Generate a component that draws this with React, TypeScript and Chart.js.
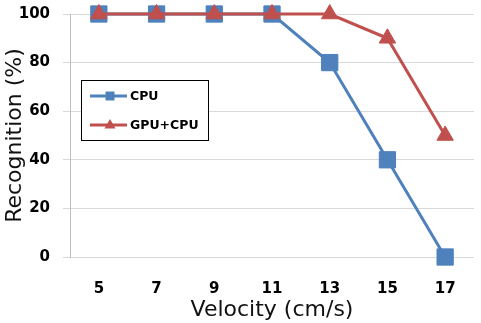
import React, { useEffect, useRef } from "react";
import { Chart, registerables } from "chart.js";

Chart.register(...registerables);

const categories = ["5", "7", "9", "11", "13", "15", "17"];
const cpuValues = [100, 100, 100, 100, 80, 40, 0];
const gpuCpuValues = [100, 100, 100, 100, 100, 90, 50];
const seriesNames = ["CPU", "GPU+CPU"];
const xTitle = "Velocity (cm/s)";
const yTitle = "Recognition (%)";

const BLUE = "#4F81BD";
const RED = "#C0504D";

const legendPlugin = {
  id: "insideLegend",
  afterDraw(chart: any) {
    const { ctx, chartArea } = chart;
    const x = chartArea.left + 11;
    const y = chartArea.top + 66;
    const w = 127;
    const h = 60;
    ctx.save();
    ctx.fillStyle = "#ffffff";
    ctx.fillRect(x, y, w, h);
    ctx.strokeStyle = "#000000";
    ctx.lineWidth = 1;
    ctx.strokeRect(x + 0.5, y + 0.5, w, h);
    const rows = [
      { name: seriesNames[0], color: BLUE, style: "rect" },
      { name: seriesNames[1], color: RED, style: "triangle" },
    ];
    rows.forEach((r, i) => {
      const cy = y + 16 + i * 29;
      ctx.strokeStyle = r.color;
      ctx.lineWidth = 3;
      ctx.beginPath();
      ctx.moveTo(x + 9, cy);
      ctx.lineTo(x + 46, cy);
      ctx.stroke();
      ctx.fillStyle = r.color;
      const cx = x + 29;
      if (r.style === "rect") {
        ctx.fillRect(cx - 4.5, cy - 4.5, 9, 9);
      } else {
        ctx.beginPath();
        ctx.moveTo(cx, cy - 6);
        ctx.lineTo(cx + 5.5, cy + 3.5);
        ctx.lineTo(cx - 5.5, cy + 3.5);
        ctx.closePath();
        ctx.fill();
      }
      ctx.fillStyle = "#000000";
      ctx.font = "bold 12.5px 'DejaVu Sans'";
      ctx.textAlign = "left";
      ctx.textBaseline = "middle";
      ctx.fillText(r.name, x + 49, cy + 1);
    });
    ctx.restore();
  },
};

export default function App() {
  const ref = useRef<HTMLCanvasElement>(null);
  useEffect(() => {
    document.body.style.margin = "0";
    const chart = new Chart(ref.current!, {
      type: "line",
      data: {
        labels: categories,
        datasets: [
          {
            label: seriesNames[0],
            data: cpuValues,
            borderColor: BLUE,
            backgroundColor: BLUE,
            borderWidth: 3,
            pointStyle: "rect",
            pointRadius: 11.5,
            pointBorderWidth: 1,
            clip: false,
            order: 1,
          },
          {
            label: seriesNames[1],
            data: gpuCpuValues,
            borderColor: RED,
            backgroundColor: RED,
            borderWidth: 3,
            pointStyle: "triangle",
            pointRadius: 9.5,
            pointBorderWidth: 1,
            clip: false,
            order: 0,
          },
        ],
      },
      options: {
        animation: false,
        responsive: false,
        layout: { autoPadding: false, padding: { top: 14, right: 7, left: 0, bottom: 0 } },
        plugins: { legend: { display: false }, tooltip: { enabled: false } },
        scales: {
          x: {
            offset: true,
            grid: { display: false, drawTicks: true, tickLength: 23 },
            border: { display: false },
            ticks: {
              color: "#000000",
              font: { family: "'DejaVu Sans'", size: 15, weight: "bold" },
              padding: 0,
            },
            title: {
              display: true,
              text: xTitle,
              color: "#111111",
              font: { family: "'DejaVu Sans'", size: 22 },
              padding: { top: 0, bottom: 0 },
            },
            afterFit(scale: any) {
              scale.height = 66;
              scale.paddingLeft = 0;
              scale.paddingRight = 0;
            },
          },
          y: {
            min: 0,
            max: 100,
            ticks: {
              stepSize: 20,
              color: "#000000",
              font: { family: "'DejaVu Sans'", size: 15, weight: "bold" },
              padding: 13,
            },
            grid: { color: "#d9d9d9", lineWidth: 1, tickLength: 7, drawTicks: true },
            border: { display: true, color: "#bfbfbf", width: 1 },
            title: {
              display: true,
              text: yTitle,
              color: "#111111",
              font: { family: "'DejaVu Sans'", size: 22 },
              padding: { top: 2, bottom: 0 },
            },
            afterFit(scale: any) {
              scale.width = 70;
              scale.paddingTop = 0;
              scale.paddingBottom = 0;
            },
          },
        },
      },
      plugins: [legendPlugin],
    });
    return () => chart.destroy();
  }, []);
  return (
    <div style={{ width: 481, height: 323 }}>
      <canvas ref={ref} width={481} height={323} />
    </div>
  );
}
